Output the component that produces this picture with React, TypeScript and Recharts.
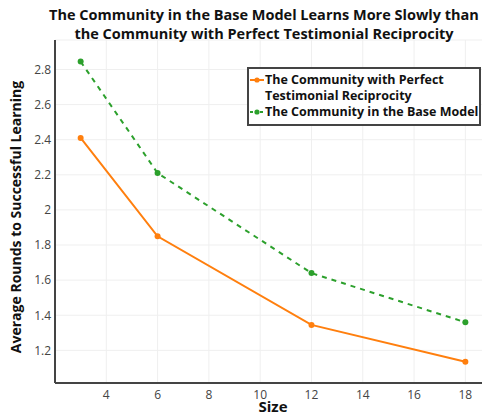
import React from 'react';
import { LineChart, Line, XAxis, YAxis, CartesianGrid } from 'recharts';

const sizes = [3, 6, 12, 18];
const perfectReciprocity = [2.41, 1.85, 1.345, 1.135];
const baseModel = [2.845, 2.21, 1.64, 1.36];
const xTicks = [4, 6, 8, 10, 12, 14, 16, 18];
const yTicks = [1.2, 1.4, 1.6, 1.8, 2, 2.2, 2.4, 2.6, 2.8];
const titleLines = [
  'The Community in the Base Model Learns More Slowly than',
  'the Community with Perfect Testimonial Reciprocity',
];
const seriesNames = [
  ['The Community with Perfect', 'Testimonial Reciprocity'],
  ['The Community in the Base Model'],
];

const ORANGE = '#ff7f0e';
const GREEN = '#2ca02c';
const FONT = '"Open Sans", sans-serif';

const data = sizes.map((s, i) => ({ size: s, perfect: perfectReciprocity[i], base: baseModel[i] }));

const LegendBox = () => {
  const colors = [ORANGE, GREEN];
  const dashes = [undefined, '3 2'];
  return (
    <div
      style={{
        position: 'absolute',
        left: 247,
        top: 67,
        border: '2px solid #444',
        background: '#fff',
        padding: '3px 0px 3px 0px',
        fontFamily: FONT,
        fontWeight: 700,
        fontSize: 12.5,
        lineHeight: '16px',
        color: '#111',
        boxSizing: 'border-box',
        width: 234,
        height: 59,
        overflow: 'hidden',
      }}
    >
      {seriesNames.map((lines, i) => (
        <div key={i} style={{ display: 'flex', alignItems: 'flex-start' }}>
          <svg width={16} height={16} style={{ flex: 'none' }}>
            <line x1={1} x2={15} y1={8} y2={8} stroke={colors[i]} strokeWidth={2} strokeDasharray={dashes[i]} />
            <circle cx={8} cy={8} r={2.6} fill={colors[i]} />
          </svg>
          <div style={{ whiteSpace: 'nowrap' }}>
            {lines.map((l, j) => (
              <div key={j}>{l}</div>
            ))}
          </div>
        </div>
      ))}
    </div>
  );
};

export default function App() {
  return (
    <div style={{ position: 'fixed', left: 0, top: 0, width: 482, height: 418, overflow: 'hidden', background: '#fff' }}>
      <LineChart
        width={500}
        height={418}
        data={data}
        margin={{ top: 40, right: 9, bottom: 0, left: 0 }}
        style={{ fontFamily: FONT }}
      >
        <CartesianGrid stroke="#efefef" strokeWidth={1} />
        <XAxis
          dataKey="size"
          type="number"
          domain={[2, 19]}
          ticks={xTicks}
          allowDataOverflow
          height={35}
          tickSize={0}
          tickMargin={7}
          axisLine={{ stroke: '#444', strokeWidth: 2 }}
          tick={{ fill: '#444', fontSize: 12, fontFamily: FONT }}
        />
        <YAxis
          type="number"
          domain={[1.014, 2.968]}
          ticks={yTicks}
          allowDataOverflow
          width={55}
          tickSize={0}
          tickMargin={4}
          axisLine={{ stroke: '#444', strokeWidth: 2 }}
          tick={{ fill: '#444', fontSize: 12, fontFamily: FONT }}
          tickFormatter={(v: number) => String(Number(v.toFixed(1)))}
        />
        <Line
          type="linear"
          dataKey="perfect"
          name="The Community with Perfect Testimonial Reciprocity"
          stroke={ORANGE}
          strokeWidth={2}
          dot={{ r: 3, fill: ORANGE, stroke: 'none' }}
          activeDot={false}
          isAnimationActive={false}
        />
        <Line
          type="linear"
          dataKey="base"
          name="The Community in the Base Model"
          stroke={GREEN}
          strokeWidth={2}
          strokeDasharray="5 5"
          dot={{ r: 3, fill: GREEN, stroke: 'none', strokeDasharray: '0' }}
          activeDot={false}
          isAnimationActive={false}
        />
      </LineChart>
      <LegendBox />
      <svg width={482} height={418} style={{ position: 'absolute', left: 0, top: 0, pointerEvents: 'none' }}>
        <text x={264} y={20} textAnchor="middle" fontFamily={FONT} fontWeight={700} fontSize={14.5} fill="#111">
          {titleLines[0]}
        </text>
        <text x={264} y={39} textAnchor="middle" fontFamily={FONT} fontWeight={700} fontSize={14.5} fill="#111">
          {titleLines[1]}
        </text>
        <text
          x={0}
          y={0}
          transform="translate(21,217) rotate(-90)"
          textAnchor="middle"
          fontFamily={FONT}
          fontWeight={700}
          fontSize={14}
          fill="#111"
        >
          Average Rounds to Successful Learning
        </text>
        <text x={273} y={411.5} textAnchor="middle" fontFamily={FONT} fontWeight={700} fontSize={15} fill="#111">
          Size
        </text>
      </svg>
    </div>
  );
}
